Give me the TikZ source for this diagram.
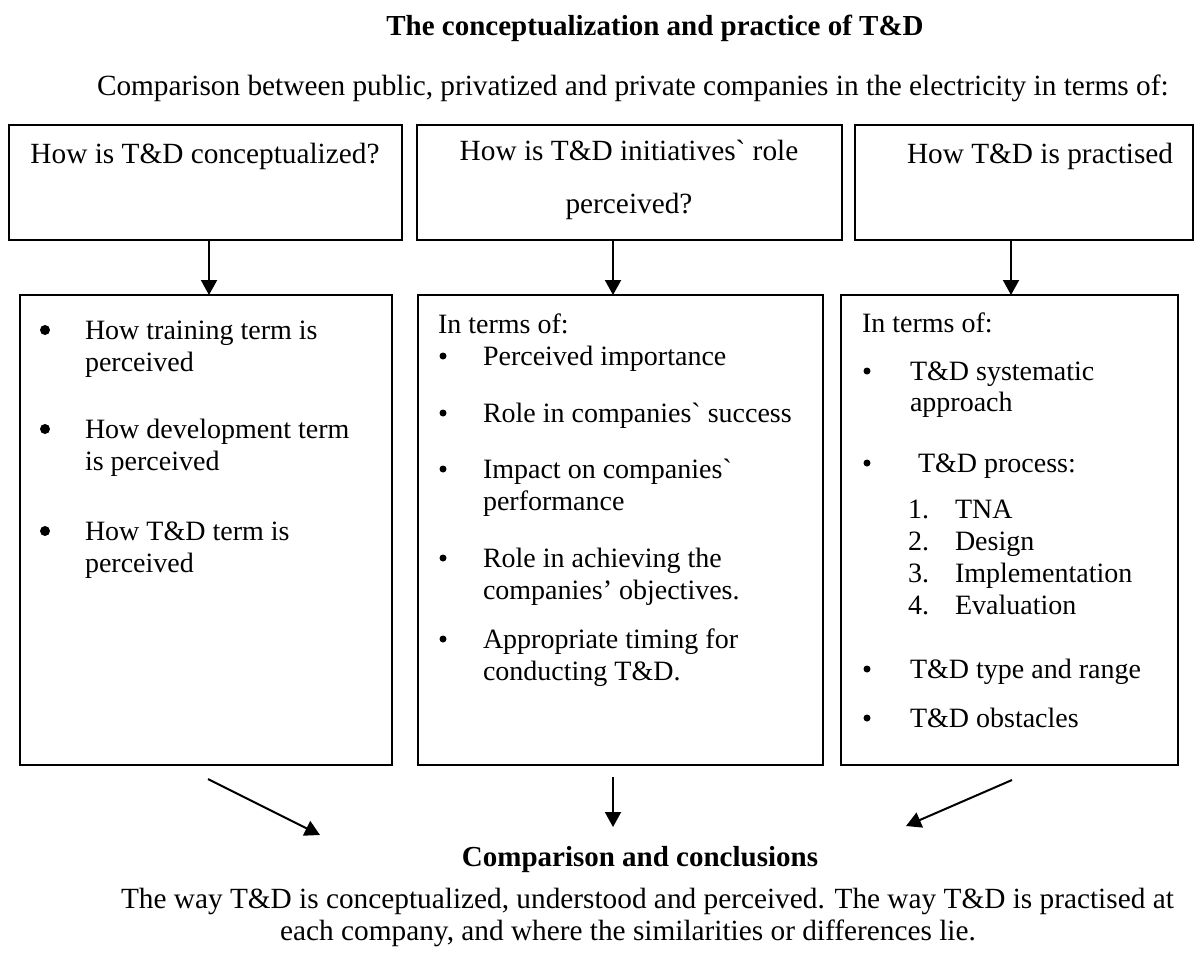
\documentclass[tikz,border=0pt]{standalone}
\usepackage{fontspec}
\setmainfont{Liberation Serif}[Ligatures=TeXOff]
\usetikzlibrary{arrows.meta,calc}
\begin{document}
\begin{tikzpicture}[x=1pt,y=-1pt,
  every node/.style={inner sep=0pt, outer sep=0pt},
  frame/.style={draw, line width=1.9pt, anchor=north west},
  txt/.style={anchor=base west, font=\fontsize{29.3}{32}\selectfont},
  ctxt/.style={anchor=base, font=\fontsize{29.3}{32}\selectfont},
  itm/.style={anchor=base west, font=\fontsize{28}{32}\selectfont},
  btxt/.style={anchor=base, font=\fontsize{29}{32}\selectfont\bfseries},
  bigdot/.style={circle, fill, minimum size=10pt},
  smalldot/.style={circle, fill, minimum size=7pt},
  link/.style={line width=2pt, -{Triangle[length=15pt,width=16pt]}},
]
\useasboundingbox (0,0) rectangle (1198,953);

% headings
\node[btxt] (title) at (655,35) {The conceptualization and practice of T\&D};
\node[txt] (sub) at (97,95) {Comparison between public, privatized and private companies in the electricity in terms of:};

% question boxes
\node[frame, minimum width=393pt, minimum height=115pt] (t1) at (9,125) {};
\node[frame, minimum width=425pt, minimum height=115pt] (t2) at (417,125) {};
\node[frame, minimum width=338pt, minimum height=115pt] (t3) at (855,125) {};
\node[ctxt] (t1a) at (205,163) {How is T\&D conceptualized?};
\node[ctxt] (t2a) at (629,160) {How is T\&D initiatives` role};
\node[ctxt] (t2b) at (629,213) {perceived?};
\node[txt] (t3a) at (907,163) {How T\&D is practised};

% detail boxes
\node[frame, minimum width=372pt, minimum height=470pt] (b1) at (20,295) {};
\node[frame, minimum width=405pt, minimum height=470pt] (b2) at (418,295) {};
\node[frame, minimum width=337pt, minimum height=470pt] (b3) at (841,295) {};

% first column
\node[bigdot] (p1) at (45,330) {};
\node[itm] (b1a) at (85,339) {How training term is};
\node[itm] (b1b) at (85,371) {perceived};
\node[bigdot] (p2) at (45,429) {};
\node[itm] (b1c) at (85,438) {How development term};
\node[itm] (b1d) at (85,470) {is perceived};
\node[bigdot] (p3) at (45,531) {};
\node[itm] (b1e) at (85,540) {How T\&D term is};
\node[itm] (b1f) at (85,572) {perceived};

% second column
\node[itm] (b2h) at (438,333) {In terms of:};
\node[smalldot] (q1) at (443,356) {};
\node[itm] (b2a) at (483,365) {Perceived importance};
\node[smalldot] (q2) at (443,413) {};
\node[itm] (b2b) at (483,422) {Role in companies` success};
\node[smalldot] (q3) at (443,469) {};
\node[itm] (b2c) at (483,478) {Impact on companies`};
\node[itm] (b2d) at (483,510) {performance};
\node[smalldot] (q4) at (443,558) {};
\node[itm] (b2e) at (483,567) {Role in achieving the};
\node[itm] (b2f) at (483,599) {companies’ objectives.};
\node[smalldot] (q5) at (443,639) {};
\node[itm] (b2g) at (483,648) {Appropriate timing for};
\node[itm] (b2i) at (483,680) {conducting T\&D.};

% third column
\node[itm] (b3h) at (862,332) {In terms of:};
\node[smalldot] (r1) at (867,371) {};
\node[itm] (b3a) at (910,380) {T\&D systematic};
\node[itm] (b3b) at (910,411) {approach};
\node[smalldot] (r2) at (867,463) {};
\node[itm] (b3c) at (918,472) {T\&D process:};
\node[itm] (n1) at (908,518) {1.};
\node[itm] (m1) at (955,518) {TNA};
\node[itm] (n2) at (908,550) {2.};
\node[itm] (m2) at (955,550) {Design};
\node[itm] (n3) at (908,582) {3.};
\node[itm] (m3) at (955,582) {Implementation};
\node[itm] (n4) at (908,614) {4.};
\node[itm] (m4) at (955,614) {Evaluation};
\node[smalldot] (r3) at (867,669) {};
\node[itm] (b3d) at (910,678) {T\&D type and range};
\node[smalldot] (r4) at (867,718) {};
\node[itm] (b3e) at (910,727) {T\&D obstacles};

% conclusion
\node[btxt] (concl) at (640,866) {Comparison and conclusions};
\node[txt] (c1) at (121,908) {The way T\&D is conceptualized, understood and perceived. The way T\&D is practised at};
\node[ctxt] (c2) at (628,940) {each company, and where the similarities or differences lie.};

% connectors
\coordinate (a1) at (209,0);
\coordinate (a2) at (613,0);
\coordinate (a3) at (1011,0);
\draw[link] (t1.south -| a1) -- (b1.north -| a1);
\draw[link] (t2.south -| a2) -- (b2.north -| a2);
\draw[link] (t3.south -| a3) -- (b3.north -| a3);

\coordinate (d1s) at (208,779);
\coordinate (d1e) at (320,835);
\coordinate (d2s) at (613,777);
\coordinate (d2e) at (613,827);
\coordinate (d3s) at (1012,780);
\coordinate (d3e) at (906,826);
\draw[link] (d1s) -- (d1e);
\draw[link] (d2s) -- (d2e);
\draw[link] (d3s) -- (d3e);
\end{tikzpicture}
\end{document}
